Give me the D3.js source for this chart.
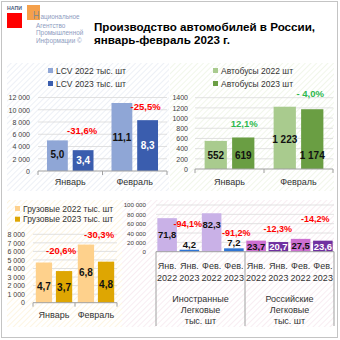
<!DOCTYPE html>
<html><head><meta charset="utf-8">
<script src="https://cdn.jsdelivr.net/npm/d3@7"></script>
<style>html,body{margin:0;padding:0;background:#fff}svg{display:block;font-family:"Liberation Sans",Arial,sans-serif}</style>
</head><body><svg id="c" width="340" height="340"></svg>
<script>
// ---------- DATA ----------
const months = ['Январь', 'Февраль'];
const lcvSeries = ['LCV 2022 тыс. шт', 'LCV 2023 тыс. шт'];
const lcv2022 = [5.0, 11.1];   // тыс. шт
const lcv2023 = [3.4, 8.3];
const lcvChange = ['-31,6%', '-25,5%'];
const lcvTicks = [0, 2000, 4000, 6000, 8000, 10000, 12000];

const busSeries = ['Автобусы 2022 шт', 'Автобусы 2023 шт'];
const bus2022 = [552, 1223];  // шт
const bus2023 = [619, 1174];
const busChange = ['12,1%', '- 4,0%'];
const busTicks = [0, 200, 400, 600, 800, 1000, 1200, 1400];

const truckSeries = ['Грузовые 2022 тыс. шт', 'Грузовые 2023 тыс. шт'];
const truck2022 = [4.7, 6.8];  // тыс. шт
const truck2023 = [3.7, 4.8];
const truckChange = ['-20,6%', '-30,3%'];
const truckTicks = [0, 1000, 2000, 3000, 4000, 5000, 6000, 7000, 8000];

const carGroups = ['Иностранные', 'Российские'];
const carGroupSub = ['Легковые', 'тыс. шт'];
const carPeriods = [['Янв.', '2022'], ['Янв.', '2023'], ['Фев.', '2022'], ['Фев.', '2023']];
const foreignCars = [71.8, 4.2, 82.3, 7.2];   // тыс. шт
const russianCars = [23.7, 20.7, 27.5, 23.6];
const foreignChange = ['-94,1%', '-91,2%'];
const russianChange = ['-12,3%', '-14,2%'];
const carTicks = [0, 20000, 40000, 60000, 80000, 100000];

const titleLines = ['Производство автомобилей в России,', 'январь-февраль 2023 г.'];
const logoLines = ['ациональное', 'Агентство', 'Промышленной', 'Информации ©'];

// ---------- SETUP ----------
const svg = d3.select('#c');
const defs = svg.append('defs');
const loc = d3.formatLocale({decimal: ',', thousands: ' ', grouping: [3], currency: ['', '']});
const fmtK = loc.format(',');
const fmt1 = loc.format('.1f');

function hatch(id, color) {
  defs.append('pattern').attr('id', id).attr('width', 4).attr('height', 4)
    .attr('patternUnits', 'userSpaceOnUse').attr('patternTransform', 'rotate(45)')
    .append('line').attr('x1', 0).attr('y1', 0).attr('x2', 0).attr('y2', 4)
    .attr('stroke', color).attr('stroke-width', 1.3);
}
hatch('hBlue', '#e3e8f1');
hatch('hGreen', '#e9f1df');
hatch('hYellow', '#fcf0d2');
hatch('hPink', '#f4e3eb');

// frame
svg.append('rect').attr('x', 1.5).attr('y', 1.5).attr('width', 336).attr('height', 336)
  .attr('fill', 'none').attr('stroke', '#c4c4c4').attr('stroke-width', 1);

// logo
svg.append('rect').attr('x', 7).attr('y', 13).attr('width', 15).attr('height', 15).attr('fill', '#ff0000');
svg.append('rect').attr('x', 27).attr('y', 5).attr('width', 13).attr('height', 15).attr('fill', '#f5a04a');
svg.append('text').attr('x', 7).attr('y', 10).attr('font-size', 5.2).attr('font-weight', 'bold')
  .attr('fill', '#4d5d80').text('НАПИ');
svg.append('text').attr('x', 33).attr('y', 19.3).attr('font-size', 11).attr('fill', '#8a8a8a')
  .attr('textLength', 6.5).attr('lengthAdjust', 'spacingAndGlyphs').text('Н');
const logoY = [19.3, 27.5, 35.1, 42.7];
const logoX = [40.5, 36, 36, 36];
svg.selectAll('.logo').data(logoLines).join('text')
  .attr('x', (d, i) => logoX[i]).attr('y', (d, i) => logoY[i])
  .attr('font-size', 6.4).attr('fill', '#8d9cc0').text(d => d);

// title
const titleY = [31, 43.5];
const titleW = [221, 136];
svg.selectAll('.title').data(titleLines).join('text')
  .attr('x', 94).attr('y', (d, i) => titleY[i])
  .attr('font-size', 11.8).attr('font-weight', 'bold').attr('fill', '#000')
  .attr('textLength', (d, i) => titleW[i]).attr('lengthAdjust', 'spacingAndGlyphs')
  .text(d => d);

// ---------- GROUPED PANEL ----------
function grouped(o) {
  const g = svg.append('g');
  g.append('rect').attr('x', o.panel[0]).attr('y', o.panel[1]).attr('width', o.panel[2]).attr('height', o.panel[3])
    .attr('fill', `url(#${o.hatch})`);
  const x0 = d3.scaleBand().domain(o.cats).range(o.xr).padding(0);
  const x1 = d3.scaleBand().domain([0, 1]).range([0, x0.bandwidth()]).paddingInner(o.pi).paddingOuter(o.po);
  const y = d3.scaleLinear().domain([o.ticks[0], o.ticks[o.ticks.length - 1]]).range(o.yr);

  g.selectAll('.grid').data(o.ticks.slice(1)).join('line')
    .attr('x1', o.xr[0]).attr('x2', o.xr[1]).attr('y1', d => y(d)).attr('y2', d => y(d))
    .attr('stroke', '#d9d9d9').attr('stroke-width', 0.8);

  const yg = g.append('g').attr('transform', `translate(${o.xr[0]},0)`)
    .call(d3.axisLeft(y).tickValues(o.ticks).tickFormat(o.tickFmt).tickSize(0).tickPadding(o.tickPad));
  yg.select('.domain').remove();
  yg.selectAll('text').attr('font-size', o.tickFs).attr('fill', '#404040').attr('font-family', null);

  const series = [o.s1, o.s2];
  series.forEach((vals, si) => {
    g.selectAll(null).data(vals).join('rect')
      .attr('x', (d, i) => x0(o.cats[i]) + x1(si)).attr('width', x1.bandwidth())
      .attr('y', d => y(d * o.mult)).attr('height', d => y(0) - y(d * o.mult))
      .attr('fill', o.colors[si]);
    g.selectAll(null).data(vals).join('text')
      .attr('x', (d, i) => x0(o.cats[i]) + x1(si) + x1.bandwidth() / 2)
      .attr('y', (d, i) => (y(d * o.mult) + y(0)) / 2 + (o.valDy ? o.valDy[si][i] : 0))
      .attr('dy', '0.36em').attr('text-anchor', 'middle')
      .attr('font-size', o.valFs).attr('font-weight', 'bold').attr('fill', o.valColors[si])
      .text(d => o.valFmt(d));
  });

  // percent labels
  g.selectAll(null).data(o.pct).join('text')
    .attr('x', (d, i) => x0(o.cats[i]) + x1(1) + x1.bandwidth() / 2 + o.pctOff[i][0])
    .attr('y', (d, i) => y(o.s2[i] * o.mult) + o.pctOff[i][1])
    .attr('dy', '0.36em').attr('text-anchor', 'middle')
    .attr('font-size', 9.5).attr('font-weight', 'bold').attr('fill', o.pctColor)
    .text(d => d);

  // x axis
  g.append('line').attr('x1', o.xr[0]).attr('x2', o.xr[1]).attr('y1', y(0)).attr('y2', y(0))
    .attr('stroke', '#a0a0a0').attr('stroke-width', 1);
  const edges = o.cats.map(c => x0(c)).concat([o.xr[1]]);
  g.selectAll(null).data(edges).join('line')
    .attr('x1', d => d).attr('x2', d => d).attr('y1', y(0)).attr('y2', y(0) + 4)
    .attr('stroke', '#a0a0a0').attr('stroke-width', 1);
  const xg = g.append('g').attr('transform', `translate(0,${y(0)})`)
    .call(d3.axisBottom(x0).tickSize(0).tickPadding(o.catPad));
  xg.select('.domain').remove();
  xg.selectAll('text').attr('font-size', 9).attr('fill', '#333').attr('font-family', null);

  // legend
  o.legend.forEach((name, i) => {
    g.append('rect').attr('x', o.legXY[0]).attr('y', o.legXY[1] + i * o.legStep)
      .attr('width', 5).attr('height', 5).attr('fill', o.colors[i]);
    g.append('text').attr('x', o.legXY[0] + 8).attr('y', o.legXY[1] + i * o.legStep + 2.5)
      .attr('dy', '0.36em').attr('font-size', 8.5).attr('fill', '#333').text(name);
  });
}

grouped({
  panel: [7, 63, 162, 128], hatch: 'hBlue', cats: months,
  xr: [38, 167], yr: [171, 97.5], pi: 0.19, po: 0.35,
  ticks: lcvTicks, tickFmt: fmtK, tickPad: 8, tickFs: 7,
  s1: lcv2022, s2: lcv2023, mult: 1000,
  colors: ['#8fa6d6', '#3a5dae'], valColors: ['#111', '#fff'], valFs: 10, valFmt: fmt1,
  valDy: [[-1, 0], [0, 0], [0, 3]],
  pct: lcvChange, pctOff: [[-1, -20], [-2, -14]], pctColor: '#ff0000',
  catPad: 8,
  legend: lcvSeries, legXY: [48, 68], legStep: 13
});

grouped({
  panel: [170, 63, 164, 128], hatch: 'hGreen', cats: months,
  xr: [195, 333], yr: [169, 97.7], pi: 0.19, po: 0.35,
  ticks: busTicks, tickFmt: d3.format('d'), tickPad: 7, tickFs: 7,
  s1: bus2022, s2: bus2023, mult: 1,
  colors: ['#a9cb8e', '#6a9e43'], valColors: ['#111', '#111'], valFs: 10, valFmt: fmtK,
  valDy: [[0, 2], [2, 16]],
  pct: busChange, pctOff: [[1, -13.5], [-2, -16]], pctColor: '#2db84d',
  catPad: 10,
  legend: busSeries, legXY: [213, 68], legStep: 13
});

grouped({
  panel: [7, 200, 115, 127], hatch: 'hYellow', cats: months,
  xr: [33, 117], yr: [302.7, 234.3], pi: 0.19, po: 0.14,
  ticks: truckTicks, tickFmt: fmtK, tickPad: 8, tickFs: 7,
  s1: truck2022, s2: truck2023, mult: 1000,
  colors: ['#fed18c', '#dea602'], valColors: ['#111', '#111'], valFs: 10, valFmt: fmt1,
  valDy: [[4, -1], [1, 2]],
  pct: truckChange, pctOff: [[-3, -20], [-7, -27]], pctColor: '#ff0000',
  catPad: 9,
  legend: truckSeries, legXY: [15, 206], legStep: 10.7
});

// ---------- PASSENGER CARS PANEL ----------
(function () {
  const g = svg.append('g');
  g.append('rect').attr('x', 122).attr('y', 200).attr('width', 212).attr('height', 127).attr('fill', 'url(#hPink)');
  const keys = [];
  carGroups.forEach(gr => carPeriods.forEach(p => keys.push(gr + '|' + p.join(' '))));
  const xr = [156, 334];
  const x = d3.scaleBand().domain(keys).range(xr).paddingInner(0.12).paddingOuter(0.06);
  const y = d3.scaleLinear().domain([0, 100000]).range([251.7, 205]);

  g.selectAll('.grid').data(carTicks.slice(1)).join('line')
    .attr('x1', xr[0]).attr('x2', xr[1]).attr('y1', d => y(d)).attr('y2', d => y(d))
    .attr('stroke', '#dcdcdc').attr('stroke-width', 0.8);
  const yg = g.append('g').attr('transform', `translate(${xr[0]},0)`)
    .call(d3.axisLeft(y).tickValues(carTicks).tickFormat(fmtK).tickSize(0).tickPadding(10));
  yg.select('.domain').remove();
  yg.selectAll('text').attr('font-size', 6.2).attr('fill', '#404040').attr('font-family', null);

  const groups = [
    {vals: foreignCars, colors: ['#c9b1e7', '#2f75d5'], txt: ['#111', '#111'], pct: foreignChange,
     valDy: [0, 0, -8, 0], pctOff: [[-1.5, -25.7], [2.5, -16]]},
    {vals: russianCars, colors: ['#cc6fd1', '#7030a0'], txt: ['#111', '#fff'], pct: russianChange,
     valDy: [0, 0, 0, 0], pctOff: [[-0.5, -13], [-7.5, -21.7]]}
  ];
  groups.forEach((gr, gi) => {
    const k = i => keys[gi * 4 + i];
    g.selectAll(null).data(gr.vals).join('rect')
      .attr('x', (d, i) => x(k(i))).attr('width', x.bandwidth())
      .attr('y', d => y(d * 1000)).attr('height', d => y(0) - y(d * 1000))
      .attr('fill', (d, i) => gr.colors[i % 2]);
    g.selectAll(null).data(gr.vals).join('text')
      .attr('x', (d, i) => x(k(i)) + x.bandwidth() / 2)
      .attr('y', (d, i) => {
        const h = y(0) - y(d * 1000);
        return (h < 9 ? y(d * 1000) - 5.5 : (y(d * 1000) + y(0)) / 2) + gr.valDy[i];
      })
      .attr('dy', '0.36em').attr('text-anchor', 'middle')
      .attr('font-size', 9.5).attr('font-weight', 'bold')
      .attr('fill', (d, i) => (y(0) - y(d * 1000) < 9 ? '#111' : gr.txt[i % 2]))
      .text(d => fmt1(d));
    g.selectAll(null).data(gr.pct).join('text')
      .attr('x', (d, i) => x(k(i * 2 + 1)) + x.bandwidth() / 2 + gr.pctOff[i][0])
      .attr('y', (d, i) => y(gr.vals[i * 2 + 1] * 1000) + gr.pctOff[i][1])
      .attr('dy', '0.36em').attr('text-anchor', 'middle')
      .attr('font-size', 9).attr('font-weight', 'bold').attr('fill', '#ff0000')
      .text(d => d);
  });

  // multi-level axis
  g.append('line').attr('x1', xr[0]).attr('x2', xr[1]).attr('y1', y(0)).attr('y2', y(0))
    .attr('stroke', '#a0a0a0');
  const step = x.step();
  const seps = [0, 1, 2].map(i => xr[0] + i * 4 * step);
  g.selectAll(null).data(seps).join('line')
    .attr('x1', d => d).attr('x2', d => d).attr('y1', y(0)).attr('y2', 326)
    .attr('stroke', '#a0a0a0');
  const xg = g.append('g').attr('transform', `translate(0,${y(0)})`)
    .call(d3.axisBottom(x).tickSize(0).tickPadding(0).tickFormat(() => ''));
  xg.select('.domain').remove();
  xg.selectAll('.tick').each(function (d) {
    const p = d.split('|')[1].split(' ');
    const t = d3.select(this).select('text').text(null).attr('font-size', 9).attr('fill', '#333').attr('font-family', null).attr('dy', null);
    t.append('tspan').attr('x', 0).attr('y', 17.5).text(p[0]);
    t.append('tspan').attr('x', 0).attr('y', 29.5).text(p[1]);
  });
  const gy = [298.3, 309.3, 320.3];
  carGroups.forEach((name, gi) => {
    const cx = (seps[gi] + seps[gi + 1]) / 2;
    [name].concat(carGroupSub).forEach((line, li) => {
      g.append('text').attr('x', cx).attr('y', gy[li]).attr('dy', '0.36em').attr('text-anchor', 'middle')
        .attr('font-size', 9).attr('fill', '#333').text(line);
    });
  });
})();
</script></body></html>
